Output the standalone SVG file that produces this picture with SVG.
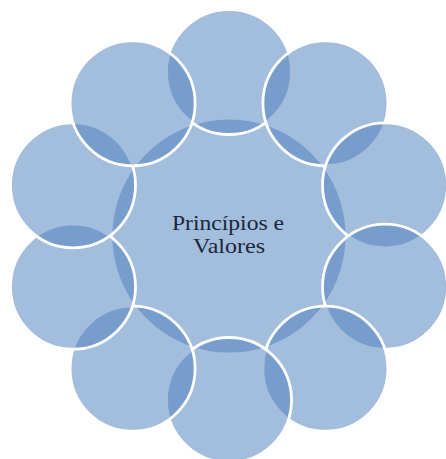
<svg xmlns="http://www.w3.org/2000/svg" width="446" height="459" viewBox="0 0 446 459">
  <style>
    .c { fill: #4F81BD; fill-opacity: 0.52; stroke: #ffffff; stroke-width: 2.8; }
    .t { font-family: "Liberation Serif", "DejaVu Serif", serif; font-size: 21px; fill: #1a273b; text-anchor: middle; }
  </style>
  <rect width="446" height="459" fill="#ffffff"/>
  <g id="center">
    <circle class="c" cx="229" cy="236" r="118"/>
  </g>
  <g id="n0"><circle class="c" cx="229.0" cy="72.0" r="62.5"/></g>
  <g id="n1"><circle class="c" cx="325.4" cy="103.3" r="62.5"/></g>
  <g id="n2"><circle class="c" cx="385.0" cy="185.3" r="62.5"/></g>
  <g id="n3"><circle class="c" cx="385.0" cy="286.7" r="62.5"/></g>
  <g id="n4"><circle class="c" cx="325.4" cy="368.7" r="62.5"/></g>
  <g id="n5"><circle class="c" cx="229.0" cy="400.0" r="62.5"/></g>
  <g id="n6"><circle class="c" cx="132.6" cy="368.7" r="62.5"/></g>
  <g id="n7"><circle class="c" cx="73.0" cy="286.7" r="62.5"/></g>
  <g id="n8"><circle class="c" cx="73.0" cy="185.3" r="62.5"/></g>
  <g id="n9"><circle class="c" cx="132.6" cy="103.3" r="62.5"/></g>
  <g id="label">
    <text class="t" x="228" y="229.5" textLength="112" lengthAdjust="spacingAndGlyphs">Princípios e</text>
    <text class="t" x="229" y="253" textLength="72" lengthAdjust="spacingAndGlyphs">Valores</text>
  </g>
  <g id="connectors"></g>
</svg>
